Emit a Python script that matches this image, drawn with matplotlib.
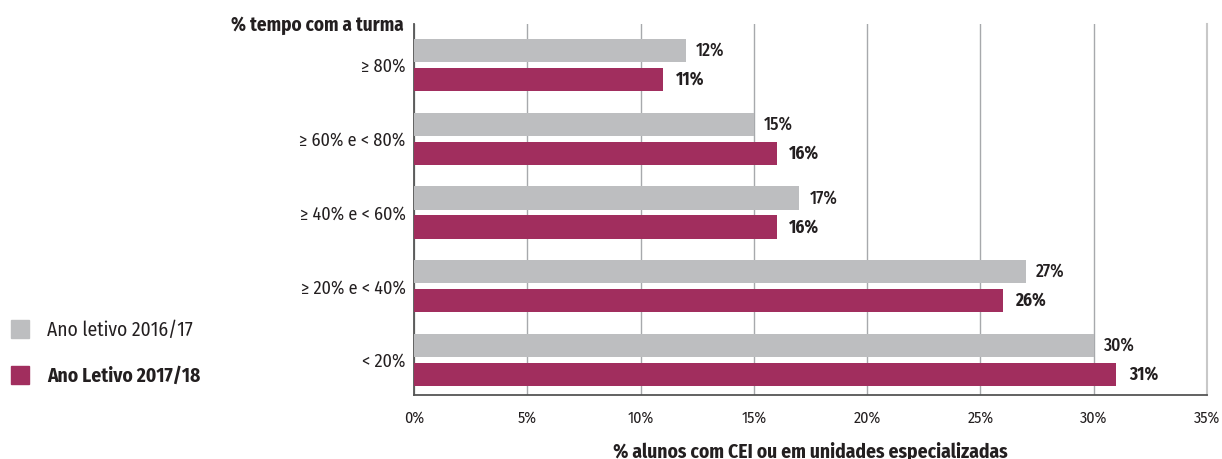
import matplotlib
matplotlib.use("Agg")
import matplotlib.pyplot as plt
import numpy as np

plt.rcParams['font.family'] = ['Fira Sans Condensed', 'DejaVu Sans']
plt.rcParams['font.stretch'] = 'condensed'

categories = ["≥ 80%", "≥ 60% e < 80%", "≥ 40% e < 60%", "≥ 20% e < 40%", "< 20%"]
ano_2016_17 = [12, 15, 17, 27, 30]
ano_2017_18 = [11, 16, 16, 26, 31]
xticks = [0, 5, 10, 15, 20, 25, 30, 35]
xtick_labels = ["0%", "5%", "10%", "15%", "20%", "25%", "30%", "35%"]

GRAY = "#BDBEC0"
MAGENTA = "#A12E5E"
TEXT = "#231F20"

fig = plt.figure(figsize=(12.22, 4.59), dpi=100)
ax = fig.add_axes([0.3388, 0.1394, 0.6489, 0.8083])

y = np.arange(len(categories))
off = 0.197
h = 0.313
ax.barh(y - off, ano_2016_17, height=h, color=GRAY, zorder=3)
ax.barh(y + off, ano_2017_18, height=h, color=MAGENTA, zorder=3)

for yi, v in zip(y, ano_2016_17):
    ax.text(v + 0.45, yi - off, f"{v}%", va="center", ha="left",
            fontsize=12.5, color=TEXT, fontweight="medium")
for yi, v in zip(y, ano_2017_18):
    ax.text(v + 0.55, yi + off, f"{v}%", va="center", ha="left",
            fontsize=12.5, color=TEXT, fontweight="bold")

ax.set_xlim(0, 35)
ax.set_ylim(4.475, -0.556)
ax.set_xticks(xticks)
ax.set_xticklabels(xtick_labels, fontsize=11.5, color=TEXT)
ax.set_yticks(y)
ax.set_yticklabels(categories, fontsize=13, color=TEXT)
ax.tick_params(axis="both", length=0)
ax.tick_params(axis="x", pad=11)
ax.tick_params(axis="y", pad=6)

ax.grid(axis="x", color="#A7A9AC", linewidth=1.0, zorder=0)
ax.spines["top"].set_visible(False)
ax.spines["right"].set_color("#C8C8C8")
ax.spines["right"].set_linewidth(1.5)
for side in ["left", "bottom"]:
    ax.spines[side].set_color("#555555")
    ax.spines[side].set_linewidth(1.3)

ax.set_xlabel("% alunos com CEI ou em unidades especializadas",
              fontsize=14, fontweight="bold", color=TEXT, labelpad=11)

fig.text(404 / 1222, 1 - 25 / 459, "% tempo com a turma", ha="right", va="center",
         fontsize=13.8, fontweight="bold", color=TEXT)

# legend
fig.patches.append(plt.Rectangle((11 / 1222, 1 - 338 / 459), 18 / 1222, 18 / 459,
                                 transform=fig.transFigure, color=GRAY))
fig.patches.append(plt.Rectangle((11 / 1222, 1 - 384 / 459), 18 / 1222, 18 / 459,
                                 transform=fig.transFigure, color=MAGENTA))
fig.text(47 / 1222, 1 - 330 / 459, "Ano letivo 2016/17", ha="left", va="center",
         fontsize=14, color=TEXT)
fig.text(47 / 1222, 1 - 376 / 459, "Ano Letivo 2017/18", ha="left", va="center",
         fontsize=14, fontweight="bold", color=TEXT)

fig.savefig("out.png", dpi=100)
